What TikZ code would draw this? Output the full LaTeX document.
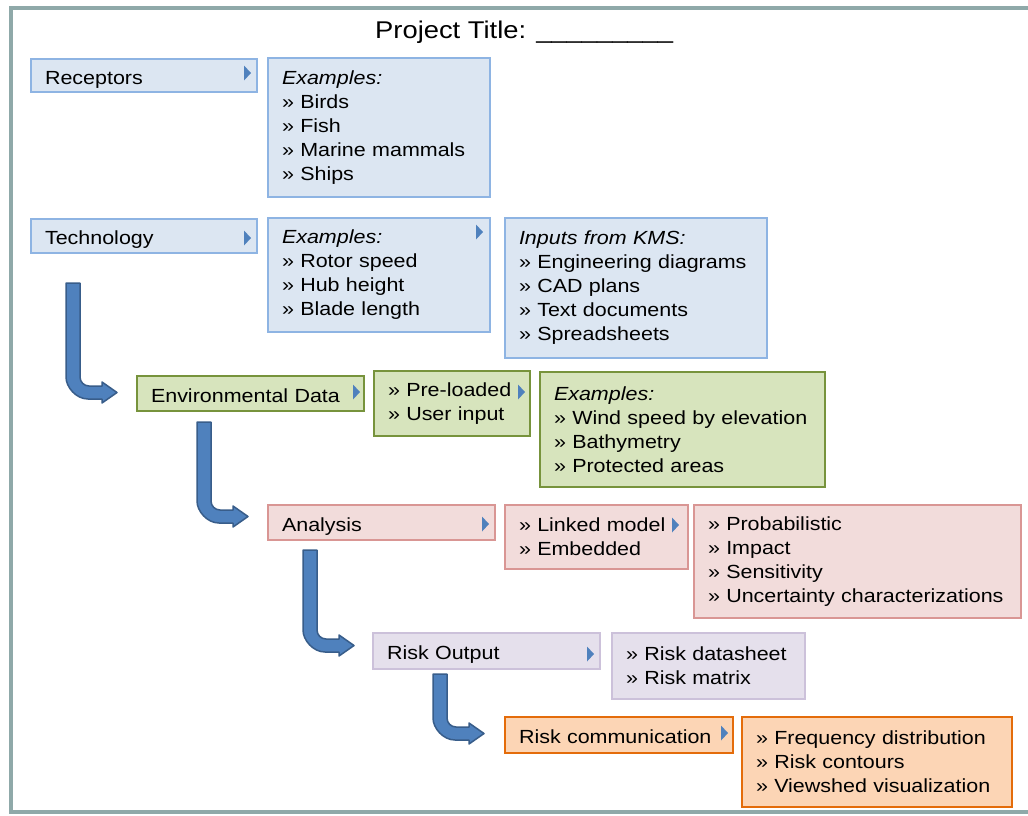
\documentclass[tikz,border=0pt]{standalone}
\usepackage{fontspec}
\setmainfont{Liberation Sans}[FakeStretch=1.13]
\definecolor{framec}{HTML}{8FA9A9}
\definecolor{bfill}{HTML}{DCE6F2}
\definecolor{bdraw}{HTML}{8EB4E3}
\definecolor{gfill}{HTML}{D7E4BD}
\definecolor{gdraw}{HTML}{77933C}
\definecolor{pfill}{HTML}{F2DCDB}
\definecolor{pdraw}{HTML}{D99694}
\definecolor{vfill}{HTML}{E5E0EC}
\definecolor{vdraw}{HTML}{CCC1DA}
\definecolor{ofill}{HTML}{FCD5B5}
\definecolor{odraw}{HTML}{E46C0A}
\definecolor{afill}{HTML}{4F81BD}
\definecolor{adraw}{HTML}{385D8A}
\definecolor{tric}{HTML}{4F81BD}
\begin{document}
\begin{tikzpicture}[x=1pt,y=-1pt,
  box/.style={draw, line width=2.5pt, anchor=north west, inner xsep=14pt, inner ysep=0pt,
    outer sep=0pt, align=left, font=\fontsize{19}{24}\selectfont},
  oneline/.style={text height=17pt, text depth=0pt},
  bluebox/.style={box, fill=bfill, draw=bdraw},
  greenbox/.style={box, fill=gfill, draw=gdraw},
  pinkbox/.style={box, fill=pfill, draw=pdraw},
  purplebox/.style={box, fill=vfill, draw=vdraw},
  orangebox/.style={box, fill=ofill, draw=odraw},
  tri/.pic={\fill[tric] (0,-7.5) -- (7,0) -- (0,7.5) -- cycle;},
  barrow/.pic={\filldraw[fill=afill, draw=adraw, line width=1.5pt, line join=round]
    (0,0) -- (14,0) -- (14,{#1-22}) .. controls (14,{#1-17}) and (18,{#1-13}) .. (23,{#1-13})
    -- (36,{#1-13}) -- (36,{#1-17}) -- (51,{#1-6.5}) -- (36,{#1+4}) -- (36,#1)
    -- (22,#1) .. controls (10,#1) and (0,{#1-12}) .. (0,{#1-22}) -- cycle;}
]
\useasboundingbox (0,0) rectangle (1028,815);
\fill[white] (0,0) rectangle (1028,815);
% frame
\draw[framec, line width=4pt] (1030,8) -- (11,8) -- (11,812) -- (1030,812);
% title
\node[anchor=base west, inner sep=0pt, font=\fontsize{24.2}{28}\selectfont] (title) at (375,38)
  {Project Title: \_\_\_\_\_\_\_\_\_};
% receptors row
\node[bluebox, oneline, text width=198pt, minimum height=33pt] (rec) at (31,59) {Receptors};
\node[bluebox, text width=194pt, minimum height=139pt] (recx) at (268,58)
  {\textit{Examples:}\\» Birds\\» Fish\\» Marine mammals\\» Ships};
% technology row
\node[bluebox, oneline, text width=198pt, minimum height=34pt] (tech) at (31,219) {Technology};
\node[bluebox, text width=194pt, minimum height=114pt] (techx) at (268,218)
  {\textit{Examples:}\\» Rotor speed\\» Hub height\\» Blade length};
\node[bluebox, text width=234pt, minimum height=140pt] (kms) at (505,218)
  {\textit{Inputs from KMS:}\\» Engineering diagrams\\» CAD plans\\» Text documents\\» Spreadsheets};
% environmental row
\node[greenbox, oneline, text width=199pt, minimum height=35pt] (env) at (137,376) {Environmental Data};
\node[greenbox, text width=128pt, minimum height=65pt] (pre) at (374,371) {» Pre-loaded\\» User input};
\node[greenbox, text width=257pt, minimum height=115pt] (envx) at (540,372)
  {\textit{Examples:}\\» Wind speed by elevation\\» Bathymetry\\» Protected areas};
% analysis row
\node[pinkbox, oneline, text width=199pt, minimum height=35pt] (ana) at (268,505) {Analysis};
\node[pinkbox, text width=155pt, minimum height=64pt] (lnk) at (505,505) {» Linked model\\» Embedded};
\node[pinkbox, text width=299pt, minimum height=113pt] (prob) at (694,505)
  {» Probabilistic\\» Impact\\» Sensitivity\\» Uncertainty characterizations};
% risk output row
\node[purplebox, oneline, text width=199pt, minimum height=36pt] (rout) at (373,633) {Risk Output};
\node[purplebox, text width=165pt, minimum height=66pt] (rdat) at (612,633) {» Risk datasheet\\» Risk matrix};
% risk communication row
\node[orangebox, oneline, text width=200pt, minimum height=36pt] (rcom) at (505,717) {Risk communication};
\node[orangebox, text width=242pt, minimum height=90pt] (freq) at (742,717)
  {» Frequency distribution\\» Risk contours\\» Viewshed visualization};
% small triangles
\path (244,73) pic {tri};
\path (244,238) pic {tri};
\path (476,232) pic {tri};
\path (353,392) pic {tri};
\path (518,392) pic {tri};
\path (482,524) pic {tri};
\path (672,525) pic {tri};
\path (587,654) pic {tri};
\path (721,733) pic {tri};
% bent arrows
\path (66,283) pic (a1) {barrow=116};
\path (197,422) pic (a2) {barrow=101};
\path (303,550) pic (a3) {barrow=102};
\path (433,674) pic (a4) {barrow=66};
\end{tikzpicture}
\end{document}
